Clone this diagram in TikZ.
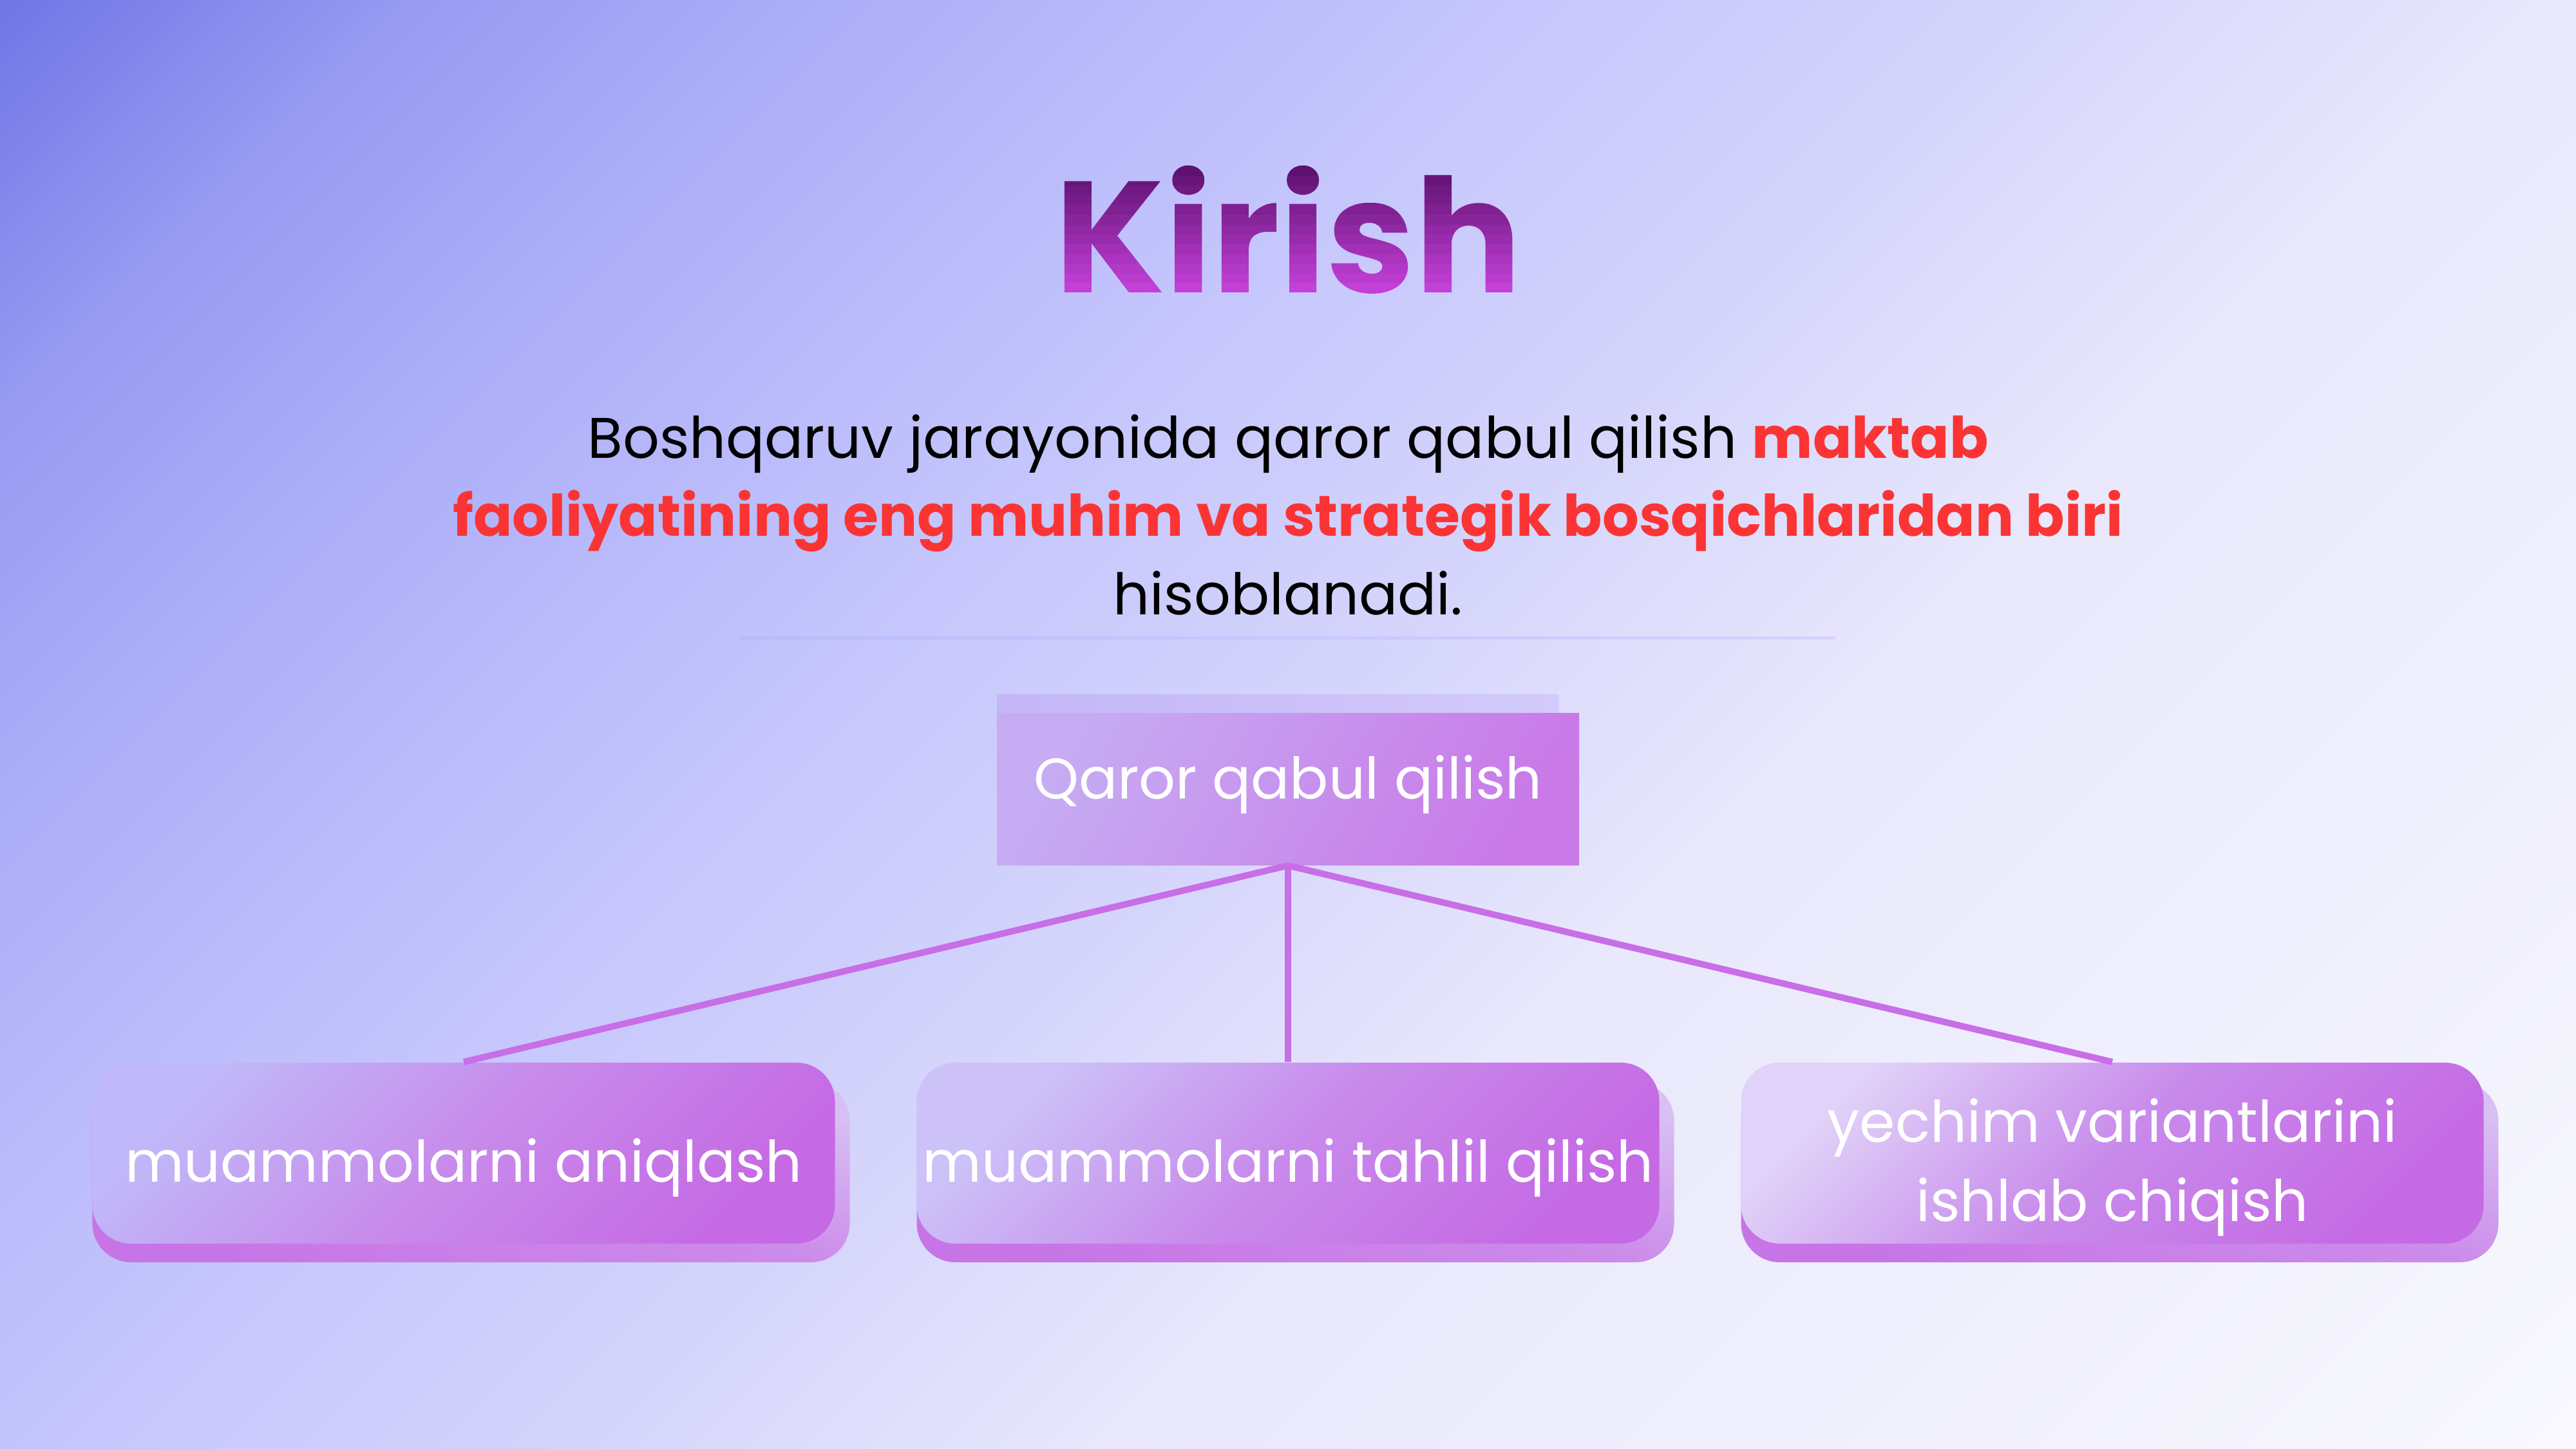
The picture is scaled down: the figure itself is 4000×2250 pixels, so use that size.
\documentclass[tikz,border=0pt]{standalone}
\usepackage{fontspec}
\setmainfont{Poppins}
\definecolor{bgA}{HTML}{7176E6}
\definecolor{bgB}{HTML}{979AF1}
\definecolor{bgC}{HTML}{ABADF8}
\definecolor{bgD}{HTML}{C3C4FC}
\definecolor{bgE}{HTML}{D4D4FC}
\definecolor{bgF}{HTML}{E9E8FC}
\definecolor{bgG}{HTML}{F8F8FE}
\definecolor{kirCol}{HTML}{8A249F}
\definecolor{hl}{HTML}{FA3434}
\definecolor{conncol}{HTML}{C86EE6}
\definecolor{boxTa}{HTML}{C0B8F8}
\definecolor{boxTb}{HTML}{CCC2F8}
\definecolor{boxTc}{HTML}{E0D2F8}
\definecolor{boxM}{HTML}{C88AEB}
\definecolor{boxR}{HTML}{C56AE4}
\definecolor{backT}{HTML}{D8C0F4}
\definecolor{backM}{HTML}{CC8AEA}
\definecolor{backB}{HTML}{C774E6}
\definecolor{qL}{HTML}{C6ACF3}
\definecolor{qR}{HTML}{C97AE8}
\definecolor{qbL}{HTML}{C4B6F7}
\definecolor{qbR}{HTML}{D2CAFA}
\definecolor{divL}{HTML}{B8BAFA}
\definecolor{divM}{HTML}{C6A8F0}
\definecolor{divR}{HTML}{D8D2FB}
\pgfdeclarehorizontalshading{bgshade}{100bp}{color(0bp)=(bgA); color(30.11bp)=(bgA); color(35.63bp)=(bgB); color(41.16bp)=(bgC); color(50bp)=(bgD); color(57.73bp)=(bgE); color(65.46bp)=(bgF); color(85.35bp)=(bgG); color(100bp)=(bgG)}
\newcommand\kirishfont{\fontsize{49.2}{59}\selectfont\bfseries}
\newcommand\bodyfont{\fontsize{17.8}{24}\selectfont}
\newcommand\kirbands{%
0.764 0.251 0.842 rg -5 -6 170 9.2 re f
0.731 0.236 0.809 rg -5 3 170 3.2 re f
0.698 0.221 0.775 rg -5 6 170 3.2 re f
0.665 0.205 0.742 rg -5 9 170 3.2 re f
0.632 0.190 0.708 rg -5 12 170 3.2 re f
0.599 0.174 0.675 rg -5 15 170 3.2 re f
0.567 0.159 0.642 rg -5 18 170 3.2 re f
0.534 0.144 0.608 rg -5 21 170 3.2 re f
0.501 0.128 0.575 rg -5 24 170 3.2 re f
0.468 0.113 0.541 rg -5 27 170 3.2 re f
0.435 0.097 0.508 rg -5 30 170 3.2 re f
0.402 0.082 0.474 rg -5 33 170 3.2 re f
0.369 0.067 0.441 rg -5 36 170 3.2 re f
0.353 0.059 0.424 rg -5 39 170 15 re f}
\begin{document}
\begin{tikzpicture}[x=0.2pt,y=-0.2pt,
  bodytext/.style={font=\bodyfont, text=black, inner sep=0pt, anchor=base},
  boxtext/.style={font=\bodyfont, text=white, inner sep=0pt, anchor=base},
  frontbox/.style={minimum width=230.6pt, minimum height=56.2pt, inner sep=0pt,
    rounded corners=12pt, top color=#1, bottom color=boxR, middle color=boxM, shading angle=45},
  backbox/.style={minimum width=235.2pt, minimum height=56pt, inner sep=0pt,
    rounded corners=12pt, top color=backT, bottom color=backB, middle color=backM, shading angle=-15},
  qfront/.style={minimum width=180.8pt, minimum height=47.2pt, inner sep=0pt,
    top color=qL, bottom color=qR, shading angle=60},
  qback/.style={minimum width=174.4pt, minimum height=48.4pt, inner sep=0pt,
    left color=qbL, right color=qbR},
  conn/.style={draw=conncol, line width=2pt}
]
\useasboundingbox (0,0) rectangle (4000,2250);
\begin{scope}
  \clip (0,0) rectangle (4000,2250);
  \shade[shading=bgshade, shading angle=-45] (0,-1750) rectangle (4000,2250);
\end{scope}

% body text
\node[bodytext] (l1) at (2000,712) {Boshqaruv jarayonida qaror qabul qilish \textcolor{hl}{\bfseries maktab}};
\node[bodytext, text=hl, font=\bodyfont\bfseries] (l2) at (2000,833) {faoliyatining eng muhim va strategik bosqichlaridan biri};
\node[bodytext] (l3) at (2000,954) {hisoblanadi.};

% divider
\shade[left color=divL, middle color=divM, right color=divR] (1150,988) rectangle (2850,992);

% central box
\node[qback] (qb) at (1984,1199) {};
\node[qfront] (qf) at (2000,1225) {};
\node[boxtext] (qt) at (2000,1240) {Qaror qabul qilish};

% bottom boxes
\node[backbox] (b1back) at (731.5,1820) {};
\node[frontbox=boxTa] (b1) at (720,1790.5) {};
\node[boxtext] (t1) at (720,1835) {muammolarni aniqlash};

\node[backbox] (b2back) at (2011.5,1820) {};
\node[frontbox=boxTb] (b2) at (2000,1790.5) {};
\node[boxtext] (t2) at (2000,1835) {muammolarni tahlil qilish};

\node[backbox] (b3back) at (3291.5,1820) {};
\node[frontbox=boxTc] (b3) at (3280,1790.5) {};
\node[boxtext] (t3a) at (3280,1773) {yechim variantlarini};
\node[boxtext] (t3b) at (3280,1896) {ishlab chiqish};

% connectors
\draw[conn] (qf.south) -- (b1.north);
\draw[conn] (qf.south) -- (b2.north);
\draw[conn] (qf.south) -- (b3.north);

% title (gradient through text clip), drawn last
\node[font=\kirishfont, text=kirCol, inner sep=0pt, anchor=base] (title) at (2000,454)
  {\special{pdf:literal q 7 Tr}\rlap{Kirish}\special{pdf:literal \kirbands\space Q}\phantom{Kirish}};
\end{tikzpicture}
\end{document}
